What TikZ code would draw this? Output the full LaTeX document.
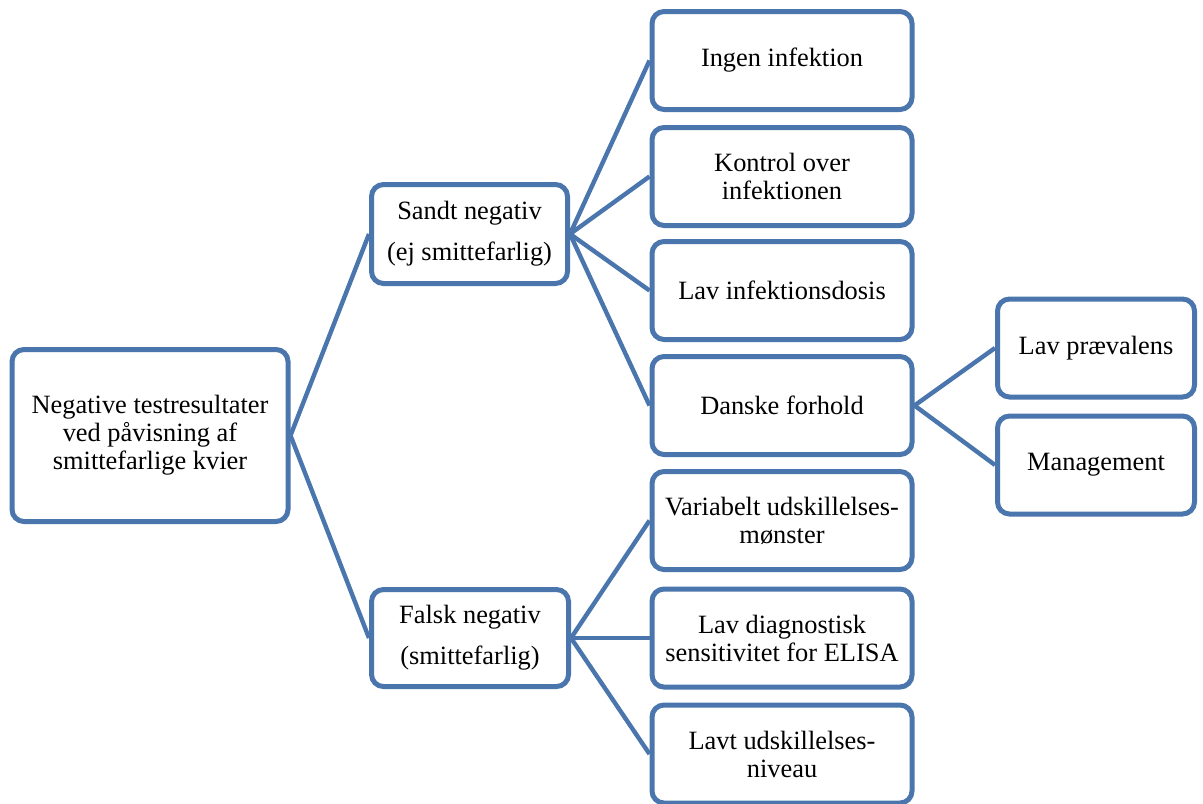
\documentclass[tikz,border=0pt]{standalone}
\usepackage{fontspec}
\setmainfont{Liberation Serif}
\usepackage{tikz}
\definecolor{kantblaa}{RGB}{74,118,173}

\begin{document}
\begin{tikzpicture}[x=0.5pt,y=-0.5pt,
    boks/.style={draw=kantblaa, line width=2.5pt, rounded corners=6pt, fill=white,
      align=center, inner sep=2pt, minimum height=49pt,
      font=\fontsize{13.2}{14}\selectfont},
    gren/.style={draw=kantblaa, line width=2.2pt}]
  \useasboundingbox (0,0) rectangle (1203,803);

      \draw (150,435.5) node[boks, minimum width=138pt, minimum height=86pt] (rod) {Negative testresultater\\ved påvisning af\\smittefarlige kvier};

  \draw (469.5,234) node[boks, minimum width=98pt, minimum height=49.5pt] (sandt) {Sandt negativ\\[6.5pt](ej smittefarlig)};
  \draw (470,638) node[boks, minimum width=98.5pt, minimum height=48.5pt] (falsk) {Falsk negativ\\[6.5pt](smittefarlig)};

      \draw (782,60.5) node[boks, minimum width=130pt] (ingen) {Ingen infektion};
      \draw (782,176.5) node[boks, minimum width=130pt] (kontrol) {Kontrol over\\infektionen};
      \draw (782,290.5) node[boks, minimum width=130pt] (dosis) {Lav infektionsdosis};
      \draw (782,405.5) node[boks, minimum width=130pt] (danske) {Danske forhold};
      \draw (782,520.5) node[boks, minimum width=130pt] (moenster) {Variabelt udskillelses-\\mønster};
      \draw (782,638) node[boks, minimum width=130pt] (elisa) {Lav diagnostisk\\sensitivitet for ELISA};
      \draw (782,754) node[boks, minimum width=130pt] (niveau) {Lavt udskillelses-\\niveau};

  \draw (1096,348) node[boks, minimum width=98.5pt] (praevalens) {Lav prævalens};
  \draw (1096,465) node[boks, minimum width=98.5pt] (management) {Management};

      \path[gren] (rod.east) edge (sandt.west);
      \path[gren] (rod.east) edge (falsk.west);
      \path[gren] (sandt.east) edge (ingen.west);
      \path[gren] (sandt.east) edge (kontrol.west);
      \path[gren] (sandt.east) edge (dosis.west);
      \path[gren] (sandt.east) edge (danske.west);
      \path[gren] (falsk.east) edge (moenster.west);
      \path[gren] (falsk.east) edge (elisa.west);
      \path[gren] (falsk.east) edge (niveau.west);
      \path[gren] (danske.east) edge (praevalens.west);
      \path[gren] (danske.east) edge (management.west);
\end{tikzpicture}
\end{document}
